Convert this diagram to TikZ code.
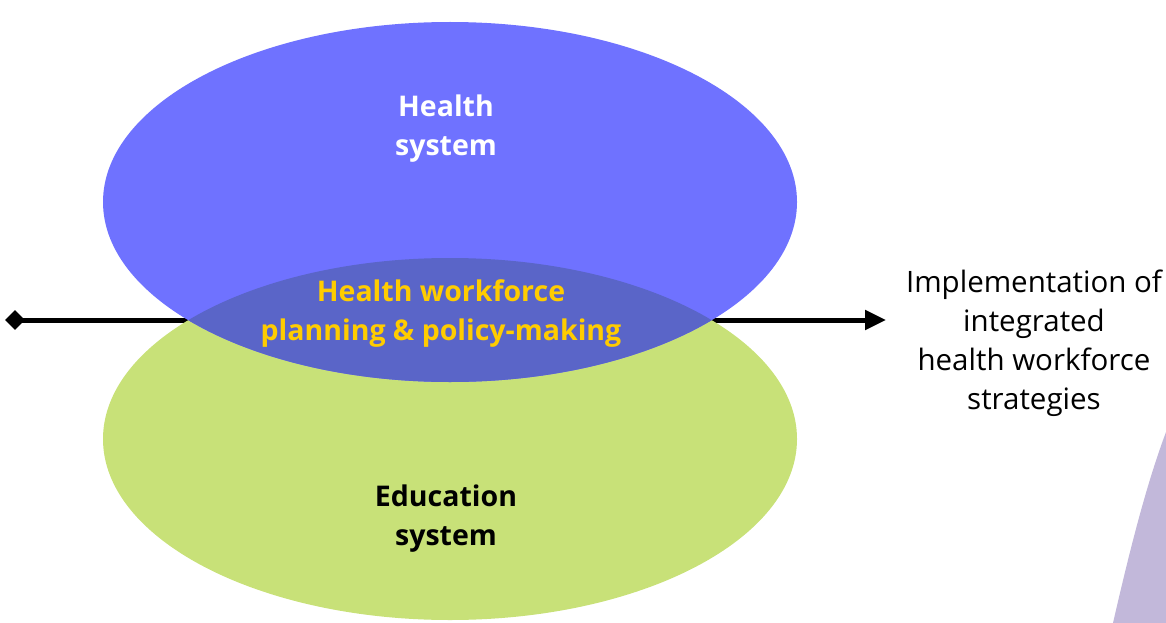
\documentclass[tikz,border=0pt]{standalone}
\usepackage{fontspec}
\setmainfont{Open Sans}
\usetikzlibrary{arrows.meta}
\usetikzlibrary{shapes.geometric}
\definecolor{healthblue}{RGB}{111,114,255}
\definecolor{overlapblue}{RGB}{90,101,200}
\definecolor{edugreen}{RGB}{200,225,120}
\definecolor{labelgold}{RGB}{255,204,0}
\definecolor{cornerlilac}{RGB}{194,184,218}
\tikzset{
  syslabel/.style={align=center, font=\bfseries\fontsize{28.5}{39}\selectfont},
  outlabel/.style={align=center, font=\fontsize{29.5}{39}\selectfont}
}

\begin{document}
\begin{tikzpicture}[x=1pt,y=-1pt]
\useasboundingbox (0,0) rectangle (1166,623);
\node[diamond, fill=black, inner sep=0pt, minimum size=20pt] (L) at (15,320) {};
\coordinate (R) at (886,320);
\coordinate (H) at (450,202);
\coordinate (E) at (450,439);

\draw[line width=5pt, -{Triangle[length=21pt,width=19pt]}] (L.center) -- (R);
\fill[edugreen] (E) ellipse [x radius=347pt, y radius=181pt];
\fill[healthblue] (H) ellipse [x radius=347pt, y radius=180pt];
\begin{scope}
\clip (H) ellipse [x radius=347pt, y radius=180pt];
\fill[overlapblue] (E) ellipse [x radius=347pt, y radius=181pt];
\end{scope}

\node[syslabel, text=white] (health) at (446,129) {Health\\system};
\node[syslabel, text=labelgold] (planning) at (441,314) {Health workforce\\planning \& policy-making};
\node[syslabel] (education) at (446,519) {Education\\system};
\node[outlabel] (impl) at (1034,343) {Implementation of\\integrated\\health workforce\\strategies};

\fill[cornerlilac] (1113,623) .. controls (1132,540) and (1148,480) .. (1166,432) -- (1166,623) -- cycle;
\end{tikzpicture}
\end{document}
